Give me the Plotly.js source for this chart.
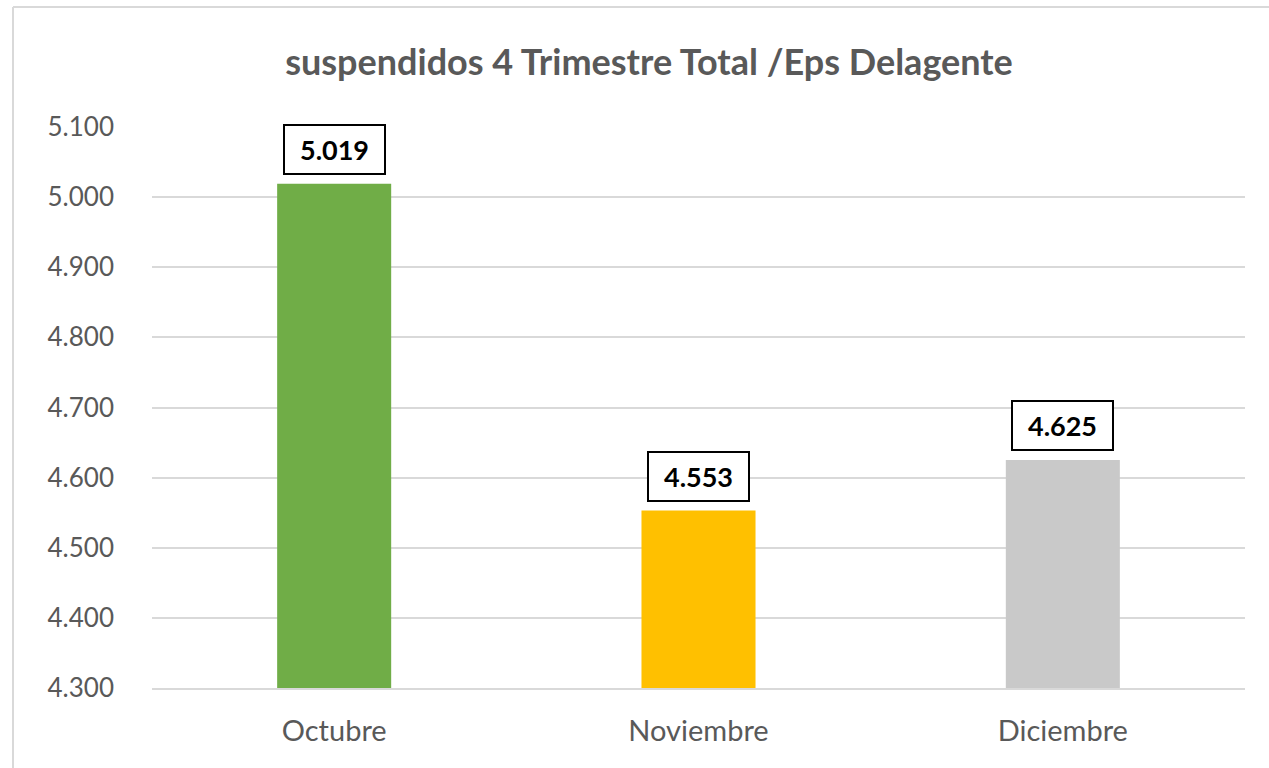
<!DOCTYPE html>
<html>
<head>
<meta charset="utf-8">
<script src="https://cdn.plot.ly/plotly-3.0.1.min.js"></script>
<style>
html,body{margin:0;padding:0;background:#fff;}
#chart{width:1269px;height:768px;}
</style>
</head>
<body>
<div id="chart"></div>
<script>
const chartTitle = "suspendidos 4 Trimestre Total /Eps Delagente";
const categories = ["Octubre", "Noviembre", "Diciembre"];
const values = [5019, 4553, 4625];
const labels = ["5.019", "4.553", "4.625"];
const barColors = ["#70AD47", "#FFC000", "#C9C9C9"];
const yTickVals = [4300, 4400, 4500, 4600, 4700, 4800, 4900, 5000, 5100];
const yTickText = ["4.300", "4.400", "4.500", "4.600", "4.700", "4.800", "4.900", "5.000", "5.100"];

const W = 1269, H = 768;
const m = {l: 152, r: 24, t: 127, b: 80};
const pw = W - m.l - m.r, ph = H - m.t - m.b;
const FONT = "Lato, 'Open Sans', sans-serif";

const trace = {
  type: "bar",
  x: categories,
  y: values,
  marker: {color: barColors},
  width: 0.313,
  hoverinfo: "none"
};

const annotations = categories.map((c, i) => ({
  x: c, y: values[i], xref: "x", yref: "y",
  text: "<b>" + labels[i] + "</b>",
  showarrow: false,
  yanchor: "bottom",
  yshift: 9,
  font: {family: FONT, size: 27, color: "#000000"},
  bgcolor: "#ffffff",
  bordercolor: "#000000",
  borderwidth: 2,
  borderpad: 2,
  width: 95,
  height: 43
}));

const shapes = [
  {type: "line", xref: "paper", yref: "paper",
   x0: (13 - m.l) / pw, x1: (W - m.l) / pw,
   y0: 1 + (m.t - 7) / ph, y1: 1 + (m.t - 7) / ph,
   line: {color: "#d9d9d9", width: 2}},
  {type: "line", xref: "paper", yref: "paper",
   x0: (13 - m.l) / pw, x1: (13 - m.l) / pw,
   y0: 1 + (m.t - 7) / ph, y1: -m.b / ph,
   line: {color: "#d9d9d9", width: 2}}
];

const layout = {
  width: W, height: H,
  margin: m,
  paper_bgcolor: "#ffffff",
  plot_bgcolor: "#ffffff",
  showlegend: false,
  title: {
    text: "<b>" + chartTitle + "</b>",
    x: 649 / W, xanchor: "center",
    y: 1 - 62 / H, yanchor: "middle",
    font: {family: FONT, size: 36, color: "#595959"}
  },
  xaxis: {
    type: "category",
    showgrid: false,
    showline: true,
    linecolor: "#d9d9d9",
    linewidth: 2,
    ticks: "",
    ticklabelstandoff: 16,
    tickfont: {family: FONT, size: 29, color: "#595959"},
    fixedrange: true
  },
  yaxis: {
    range: [4300, 5100],
    tickvals: yTickVals,
    ticktext: yTickText,
    showgrid: true,
    gridcolor: "#d9d9d9",
    gridwidth: 2,
    zeroline: false,
    showline: false,
    ticks: "",
    ticklabelstandoff: 37,
    tickfont: {family: FONT, size: 26, color: "#595959"},
    fixedrange: true
  },
  annotations: annotations,
  shapes: shapes
};

Plotly.newPlot("chart", [trace], layout, {displayModeBar: false, staticPlot: true});
</script>
</body>
</html>
